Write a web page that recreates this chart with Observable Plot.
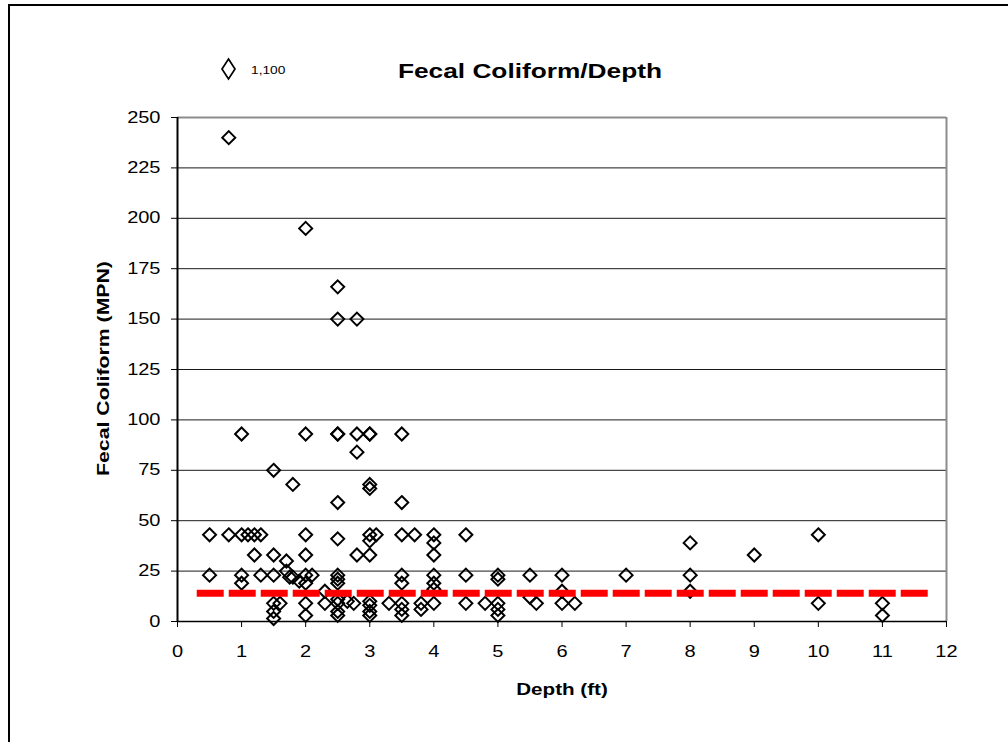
<!DOCTYPE html>
<html>
<head>
<meta charset="utf-8">
<script src="https://cdn.jsdelivr.net/npm/d3@7"></script>
<script src="https://cdn.jsdelivr.net/npm/@observablehq/plot@0.6"></script>
<style>
html,body{margin:0;padding:0;background:#fff;}
body{width:1008px;height:742px;overflow:hidden;position:relative;font-family:"Liberation Sans",Arial,sans-serif;color:#000;}
#outer{position:absolute;left:8px;top:4px;width:1100px;height:800px;border:2px solid #000;box-sizing:border-box;}
#chart{position:absolute;left:0;top:0;}
.txt{position:absolute;white-space:nowrap;text-align:center;}
#title{left:330px;width:400px;top:60px;font-size:21px;line-height:21px;font-weight:bold;transform:scaleX(1.25);}
#ylab{left:-47px;width:300px;top:360px;font-size:17px;line-height:17px;font-weight:bold;transform:rotate(-90deg) scaleX(1.25);}
#xlab{left:412px;width:300px;top:681px;font-size:16.5px;line-height:16.5px;font-weight:bold;transform:scaleX(1.25);}
#legtext{position:absolute;left:251px;top:65px;font-size:11px;line-height:11px;transform:scaleX(1.25);transform-origin:left center;white-space:nowrap;}
#legsym{position:absolute;left:218px;top:57px;}
</style>
</head>
<body>
<div id="outer"></div>
<div id="chart"></div>
<div id="title" class="txt"></div>
<div id="ylab" class="txt"></div>
<div id="xlab" class="txt"></div>
<svg id="legsym" width="21" height="24"><polygon points="10.5,2 17,12 10.5,22 4,12" fill="none" stroke="#000" stroke-width="1.7"/></svg>
<div id="legtext"></div>
<script>
// ---- data ----
const depth = [
  0.5, 0.5, 0.8, 0.8, 1.0, 1.0, 1.0, 1.0, 1.1, 1.2, 1.2, 1.3, 1.3,
  1.5, 1.5, 1.5, 1.5, 1.5, 1.5, 1.6, 1.7, 1.7, 1.75, 1.8, 1.8, 1.9,
  2.0, 2.0, 2.0, 2.0, 2.0, 2.0, 2.0, 2.0, 2.1, 2.3, 2.3,
  2.5, 2.5, 2.5, 2.5, 2.5, 2.5, 2.5, 2.5, 2.5, 2.5, 2.5, 2.5, 2.5,
  2.65, 2.75, 2.8, 2.8, 2.8, 2.8,
  3.0, 3.0, 3.0, 3.0, 3.0, 3.0, 3.0, 3.0, 3.0, 3.0, 3.0, 3.1, 3.3,
  3.5, 3.5, 3.5, 3.5, 3.5, 3.5, 3.5, 3.5, 3.7, 3.8, 3.8,
  4.0, 4.0, 4.0, 4.0, 4.0, 4.0, 4.0, 4.5, 4.5, 4.5, 4.8,
  5.0, 5.0, 5.0, 5.0, 5.0, 5.5, 5.5, 5.6, 6.0, 6.0, 6.0, 6.2,
  7.0, 8.0, 8.0, 8.0, 9.0, 10.0, 10.0, 11.0, 11.0
];
const fecalColiform = [
  43, 23, 240, 43, 93, 43, 23, 19, 43, 43, 33, 43, 23,
  75, 33, 23, 9, 5, 1.5, 9, 30, 25, 22, 68, 22, 20,
  195, 93, 43, 33, 23, 19, 9, 3, 23, 15, 9,
  166, 150, 93, 93, 59, 41, 23, 21, 19, 11, 9, 5, 3,
  10, 9, 150, 93, 84, 33,
  93, 93, 68, 66, 43, 40, 33, 10, 8, 5, 3, 43, 9,
  93, 59, 43, 23, 19, 9, 6, 3, 43, 9, 6,
  43, 39, 33, 23, 19, 16, 9, 43, 23, 9, 9,
  23, 21, 9, 6, 3, 23, 12, 9, 23, 15, 9, 9,
  23, 39, 23, 15, 33, 43, 9, 9, 3
];
const limitDepth = [0.3, 11.75];
const limitValue = [14, 14];
const xTicks = [0, 1, 2, 3, 4, 5, 6, 7, 8, 9, 10, 11, 12];
const yTicks = [0, 25, 50, 75, 100, 125, 150, 175, 200, 225, 250];
const titleText = "Fecal Coliform/Depth";
const xLabel = "Depth (ft)";
const yLabel = "Fecal Coliform (MPN)";
const legendLabel = "1,100";

// ---- build ----
const points = depth.map((d, i) => ({depth: d, fc: fecalColiform[i]}));
const limit = limitDepth.map((d, i) => ({depth: d, fc: limitValue[i]}));
const xDomain = [xTicks[0], xTicks[xTicks.length - 1]];
const yDomain = [yTicks[0], yTicks[yTicks.length - 1]];

const plot = Plot.plot({
  width: 1008,
  height: 742,
  marginLeft: 177,
  marginRight: 62,
  marginTop: 117,
  marginBottom: 121,
  x: {domain: xDomain},
  y: {domain: yDomain},
  style: {fontFamily: '"Liberation Sans", Arial, sans-serif', fontSize: "16px", color: "#000", background: "transparent", overflow: "visible"},
  marks: [
    Plot.ruleY(yTicks.slice(1, -1), {stroke: "#1a1a1a", strokeWidth: 1}),
    Plot.ruleY([yDomain[1]], {stroke: "#8c8c8c", strokeWidth: 2}),
    Plot.ruleX([xDomain[1]], {stroke: "#8c8c8c", strokeWidth: 2}),
    Plot.dot(points, {x: "depth", y: "fc", symbol: "diamond2", r: 5.85, stroke: "#000", strokeWidth: 2, fill: "none"}),
    Plot.line(limit, {x: "depth", y: "fc", stroke: "#ff0000", strokeWidth: 7, strokeDasharray: "27,5", strokeLinecap: "butt"}),
    Plot.ruleX([xDomain[0]], {stroke: "#000", strokeWidth: 2}),
    Plot.ruleY([yDomain[0]], {stroke: "#000", strokeWidth: 1.5}),
    Plot.axisX({ticks: xTicks, tickSize: 6, tickPadding: 18, tickFormat: d => String(d), label: null}),
    Plot.axisY({ticks: yTicks, tickSize: 6, tickPadding: 11, tickFormat: d => String(d), label: null})
  ]
});
document.getElementById("chart").appendChild(plot);

// widen tick labels to match the reference's wide glyphs
d3.select(plot).selectAll('g[aria-label="x-axis tick label"] text, g[aria-label="y-axis tick label"] text')
  .each(function() {
    const t = this.getAttribute("transform") || "";
    this.setAttribute("transform", t + " scale(1.25,1)");
  });

document.getElementById("title").textContent = titleText;
document.getElementById("xlab").textContent = xLabel;
document.getElementById("ylab").textContent = yLabel;
document.getElementById("legtext").textContent = legendLabel;
</script>
</body>
</html>
